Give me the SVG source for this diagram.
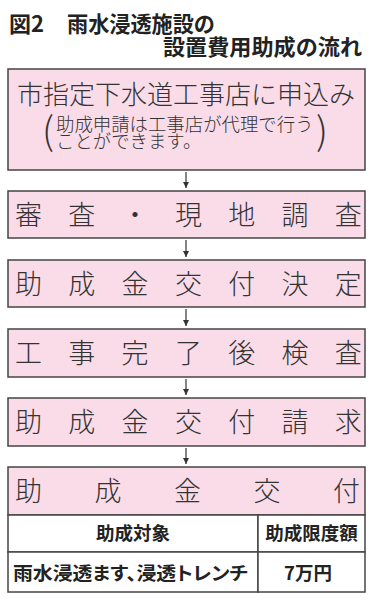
<svg xmlns="http://www.w3.org/2000/svg" width="373" height="600" viewBox="0 0 373 600">
<style>
text{font-family:"Noto Sans CJK JP","Noto Sans",sans-serif;fill:#333}
.title{font-size:22px;font-weight:bold;fill:#222}
.box{fill:#fadce9;stroke:#444;stroke-width:1.5}
.cell{fill:#fff;stroke:#444;stroke-width:1.5}
.big{font-size:27px;font-weight:300}
.main{font-size:26px;font-weight:300}
.sub{font-size:18.4px}
.paren{font-size:38px}
.tb{font-size:18.5px;font-weight:bold;fill:#222}
.conn line{stroke:#333;stroke-width:1.2}
</style>
<defs>
<marker id="ah" viewBox="0 0 10 10" refX="10" refY="5" markerWidth="6" markerHeight="6" markerUnits="userSpaceOnUse" orient="auto">
<path d="M0,0L10,5L0,10z" fill="#333"/>
</marker>
</defs>
<g id="title">
<text class="title" x="9" y="32">図2</text>
<text class="title" x="67" y="32" textLength="148" lengthAdjust="spacingAndGlyphs">雨水浸透施設の</text>
<text class="title" x="163" y="55" textLength="199" lengthAdjust="spacingAndGlyphs">設置費用助成の流れ</text>
</g>
<g id="n1">
<rect class="box" x="8" y="69" width="357" height="101"/>
<text class="main"><tspan x="17" y="104">市指定下水道工事店に申込み</tspan><tspan class="paren" x="42" y="145">(</tspan><tspan class="sub" x="56" y="131">助成申請は工事店が代理で行う</tspan><tspan class="sub" x="56" y="148">ことができます。</tspan><tspan class="paren" x="316" y="145">)</tspan></text>
</g>
<g id="n2">
<rect class="box" x="8" y="191" width="357" height="47"/>
<text class="big" x="15 68.3 121.6 175 228.2 281.5 334.8" y="225">審査・現地調査</text>
</g>
<g id="n3">
<rect class="box" x="8" y="260" width="357" height="47"/>
<text class="big" x="15 68.3 121.6 175 228.2 281.5 334.8" y="294">助成金交付決定</text>
</g>
<g id="n4">
<rect class="box" x="8" y="329" width="357" height="48"/>
<text class="big" x="15 68.3 121.6 175 228.2 281.5 334.8" y="363">工事完了後検査</text>
</g>
<g id="n5">
<rect class="box" x="8" y="398" width="357" height="48"/>
<text class="big" x="15 68.3 121.6 175 228.2 281.5 334.8" y="432">助成金交付請求</text>
</g>
<g id="n6">
<rect class="box" x="8" y="467" width="357" height="48"/>
<text class="big" x="15 94.5 174 253.5 333" y="501">助成金交付</text>
</g>
<g id="table">
<rect class="cell" x="8" y="515" width="250" height="37"/>
<rect class="cell" x="258" y="515" width="107" height="37"/>
<rect class="cell" x="8" y="552" width="250" height="40"/>
<rect class="cell" x="258" y="552" width="107" height="40"/>
<text class="tb" x="133" y="540" text-anchor="middle">助成対象</text>
<text class="tb" x="311.5" y="540" text-anchor="middle">助成限度額</text>
<text class="tb" x="13" y="580" style="font-feature-settings:'palt'" textLength="235" lengthAdjust="spacingAndGlyphs">雨水浸透ます、浸透トレンチ</text>
<text class="tb" x="308" y="580" text-anchor="middle">7万円</text>
</g>
<g id="connectors" class="conn">
<line x1="186" y1="172" x2="186" y2="188" marker-end="url(#ah)"/>
<line x1="186" y1="240" x2="186" y2="257" marker-end="url(#ah)"/>
<line x1="186" y1="309" x2="186" y2="326" marker-end="url(#ah)"/>
<line x1="186" y1="379" x2="186" y2="395" marker-end="url(#ah)"/>
<line x1="186" y1="448" x2="186" y2="464" marker-end="url(#ah)"/>
</g>
</svg>
